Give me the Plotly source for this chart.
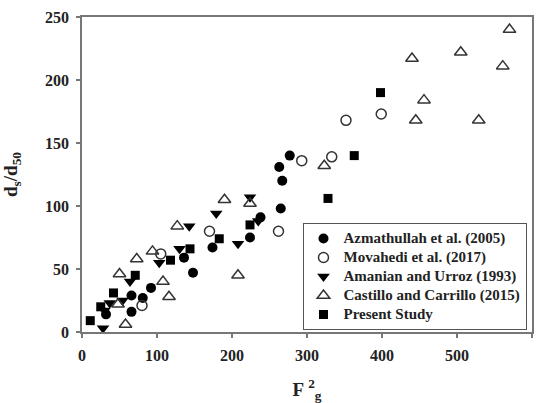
import plotly.graph_objects as go

# ---- data ----
azm_x = [32, 66, 66, 81, 92, 136, 148, 174, 224, 238, 265, 267, 263, 277]
azm_y = [14, 16, 29, 27, 35, 59, 47, 67, 75, 91, 98, 120, 131, 140]

mov_x = [80, 105, 170, 262, 293, 333, 352, 399]
mov_y = [21, 62, 80, 80, 136, 139, 168, 173]

ama_x = [28, 30, 37, 54, 64, 103, 130, 143, 179, 208, 224, 235]
ama_y = [3, 17, 23, 25, 40, 55, 66, 84, 94, 70, 107, 88]

cas_x = [50, 48, 58, 73, 94, 108, 116, 127, 190, 208, 224, 323, 445, 456, 440, 505, 529, 561, 570]
cas_y = [46, 22, 6, 58, 64, 40, 28, 84, 105, 45, 102, 132, 168, 184, 217, 222, 168, 211, 240]

pre_x = [11, 25, 42, 71, 118, 144, 183, 224, 328, 363, 398]
pre_y = [9, 20, 31, 45, 57, 66, 74, 85, 106, 140, 190]

series_names = ["Azmathullah et al. (2005)", "Movahedi et al. (2017)",
                "Amanian and Urroz (1993)", "Castillo and Carrillo (2015)",
                "Present Study"]

x_ticks = [0, 100, 200, 300, 400, 500, 600]
y_ticks = [0, 50, 100, 150, 200, 250]

FONT = "Liberation Serif"


def leg(name):
    return '<span style="font-size:15px">' + name + '</span>'


fig = go.Figure()
fig.add_trace(go.Scatter(x=azm_x, y=azm_y, mode="markers", name=leg(series_names[0]),
                         marker=dict(symbol="circle", size=10, color="black")))
fig.add_trace(go.Scatter(x=mov_x, y=mov_y, mode="markers", name=leg(series_names[1]),
                         marker=dict(symbol="circle-open", size=10, color="#333",
                                     line=dict(width=1.5, color="#333"))))
fig.add_trace(go.Scatter(x=ama_x, y=ama_y, mode="markers", name=leg(series_names[2]),
                         marker=dict(symbol="triangle-down", size=11, color="black")))
fig.add_trace(go.Scatter(x=cas_x, y=cas_y, mode="markers", name=leg(series_names[3]),
                         marker=dict(symbol="triangle-up-open", size=11, color="#333",
                                     line=dict(width=1.5, color="#333"))))
fig.add_trace(go.Scatter(x=pre_x, y=pre_y, mode="markers", name=leg(series_names[4]),
                         marker=dict(symbol="square", size=9, color="black")))

axis_common = dict(showgrid=False, zeroline=False, showline=True, linecolor="#777",
                   linewidth=1.5, mirror=True, ticks="outside", ticklen=4,
                   tickcolor="#777", tickwidth=1.5, ticklabelstandoff=4,
                   automargin=False,
                   tickfont=dict(family=FONT, size=16, color="#222", weight="bold"))

fig.update_xaxes(range=[0, 600], tickvals=x_ticks, **axis_common,
                 title=dict(text="F <sup>2</sup><sub>g</sub>",
                            font=dict(family=FONT, size=19, color="#222", weight="bold"),
                            standoff=22))
fig.update_yaxes(range=[0, 250], tickvals=y_ticks, **axis_common,
                 title=dict(text="d<sub>s</sub>/d<sub>50</sub>",
                            font=dict(family=FONT, size=19, color="#222", weight="bold"),
                            standoff=22))

fig.update_layout(
    width=541, height=403,
    margin=dict(l=82, r=9, t=17, b=71),
    plot_bgcolor="white", paper_bgcolor="white",
    showlegend=True,
    legend=dict(x=0.49, y=0.346, xanchor="left", yanchor="top",
                bgcolor="white", bordercolor="#555", borderwidth=1,
                font=dict(family=FONT, size=11, color="#222", weight="bold"),
                tracegroupgap=0, itemsizing="trace"),
)

fig.write_html("out.html")
